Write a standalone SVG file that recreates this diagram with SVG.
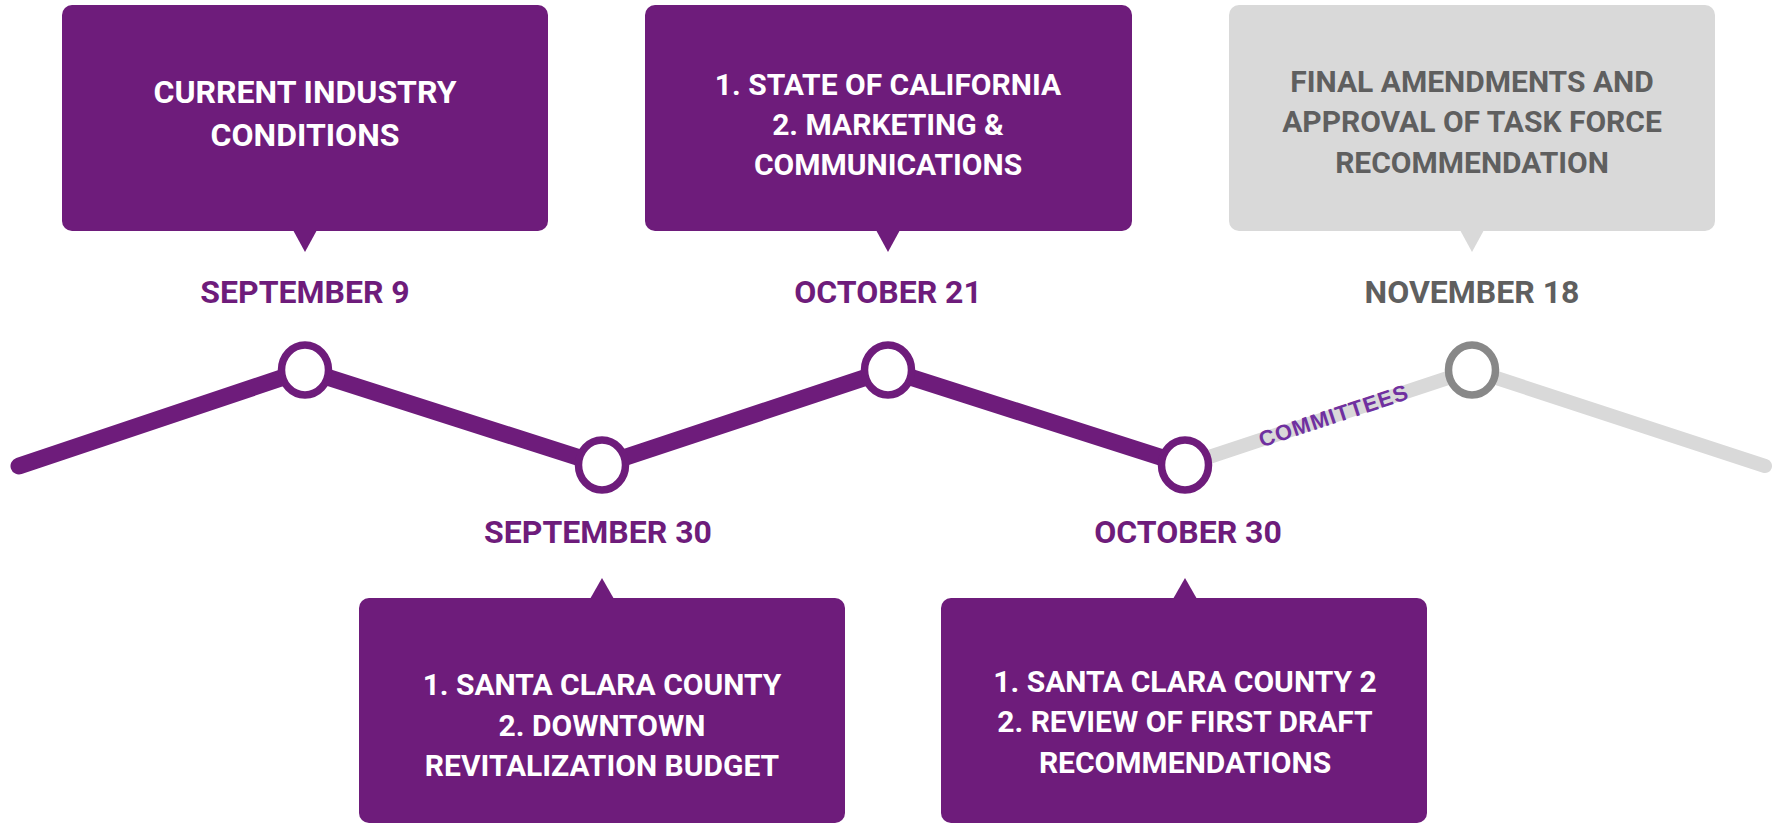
<svg xmlns="http://www.w3.org/2000/svg" width="1787" height="825" viewBox="0 0 1787 825">
<style>
.box{fill:#6E1C7B}
.gbox{fill:#D9D9D9}
.bt{font-family:Roboto,"Liberation Sans",sans-serif;font-weight:700;font-size:30px;fill:#FFFFFF;text-anchor:middle}
.bt32{font-size:32px}
.gt{font-family:Roboto,"Liberation Sans",sans-serif;font-weight:700;font-size:30px;fill:#5F5F5F;text-anchor:middle}
.date{font-family:Roboto,"Liberation Sans",sans-serif;font-weight:700;font-size:32px;fill:#6E1C7B;text-anchor:middle}
.gdate{font-family:Roboto,"Liberation Sans",sans-serif;font-weight:700;font-size:32px;fill:#5F5F5F;text-anchor:middle}
.dot{fill:#FFFFFF;stroke:#6E1C7B;stroke-width:7.5}
.gdot{fill:#FFFFFF;stroke:#888888;stroke-width:7.5}
.lbl{font-family:"Liberation Sans",Arial,sans-serif;font-weight:700;font-size:22px;fill:#7030A0;letter-spacing:1px;text-anchor:middle}
</style>
<g id="connectors" fill="none" stroke-linecap="round" stroke-linejoin="round">
<polyline points="1185,465 1472,370 1765,466" stroke="#D9D9D9" stroke-width="14"/>
<polyline points="19,466 305,370 602,465 888,370 1185,465" stroke="#6E1C7B" stroke-width="17"/>
<text class="lbl" transform="translate(1336,423) rotate(-18.3)">COMMITTEES</text>
</g>
<g id="node-sep9">
<rect class="box" x="62" y="5" width="486" height="226" rx="10"/>
<polygon class="box" points="293,230 317,230 305,252"/>
<text class="bt bt32" x="305" y="103">CURRENT INDUSTRY</text>
<text class="bt bt32" x="305" y="146">CONDITIONS</text>
<text class="date" x="305" y="303">SEPTEMBER 9</text>
<ellipse class="dot" cx="305" cy="370" rx="23.5" ry="25"/>
</g>
<g id="node-sep30">
<rect class="box" x="359" y="598" width="486" height="225" rx="10"/>
<polygon class="box" points="590,599 614,599 602,578"/>
<text class="bt" x="602" y="695">1. SANTA CLARA COUNTY</text>
<text class="bt" x="602" y="736">2. DOWNTOWN</text>
<text class="bt" x="602" y="776">REVITALIZATION BUDGET</text>
<text class="date" x="598" y="543">SEPTEMBER 30</text>
<ellipse class="dot" cx="602" cy="465" rx="23.5" ry="25"/>
</g>
<g id="node-oct21">
<rect class="box" x="645" y="5" width="487" height="226" rx="10"/>
<polygon class="box" points="876,230 900,230 888,252"/>
<text class="bt" x="888" y="95">1. STATE OF CALIFORNIA</text>
<text class="bt" x="888" y="135">2. MARKETING &amp;</text>
<text class="bt" x="888" y="175">COMMUNICATIONS</text>
<text class="date" x="888" y="303">OCTOBER 21</text>
<ellipse class="dot" cx="888" cy="370" rx="23.5" ry="25"/>
</g>
<g id="node-oct30">
<rect class="box" x="941" y="598" width="486" height="225" rx="10"/>
<polygon class="box" points="1173,599 1197,599 1185,578"/>
<text class="bt" x="1185" y="692">1. SANTA CLARA COUNTY 2</text>
<text class="bt" x="1185" y="732">2. REVIEW OF FIRST DRAFT</text>
<text class="bt" x="1185" y="773">RECOMMENDATIONS</text>
<text class="date" x="1188" y="543">OCTOBER 30</text>
<ellipse class="dot" cx="1185" cy="465" rx="23.5" ry="25"/>
</g>
<g id="node-nov18">
<rect class="gbox" x="1229" y="5" width="486" height="226" rx="10"/>
<polygon class="gbox" points="1460,230 1484,230 1472,252"/>
<text class="gt" x="1472" y="92">FINAL AMENDMENTS AND</text>
<text class="gt" x="1472" y="132">APPROVAL OF TASK FORCE</text>
<text class="gt" x="1472" y="173">RECOMMENDATION</text>
<text class="gdate" x="1472" y="303">NOVEMBER 18</text>
<ellipse class="gdot" cx="1472" cy="370" rx="23.5" ry="25"/>
</g>
</svg>
